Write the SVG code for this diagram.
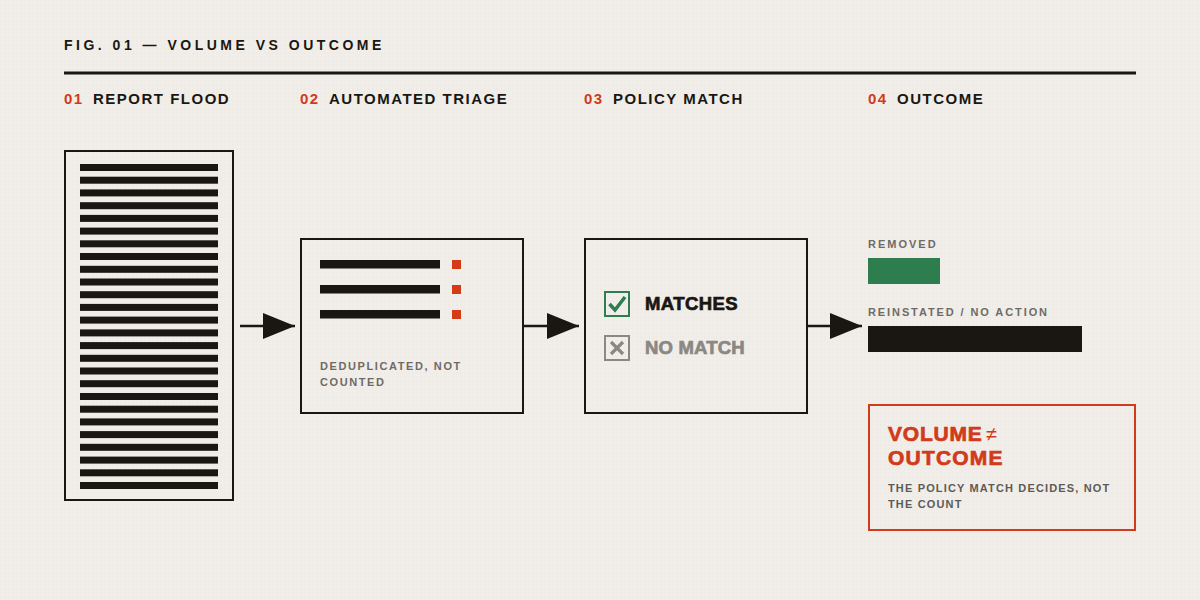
<svg xmlns="http://www.w3.org/2000/svg" width="1200" height="600" viewBox="0 0 1200 600">
<defs>
<pattern id="dots" width="4" height="4" patternUnits="userSpaceOnUse"><rect width="4" height="4" fill="#f1eee9"/><circle cx="1" cy="1" r="0.6" fill="#e6e2dc"/></pattern>
<marker id="ah" viewBox="0 0 32 26" refX="32" refY="13" markerWidth="32" markerHeight="26" markerUnits="userSpaceOnUse" orient="auto"><path d="M0,0 L32,13 L0,26 Z" fill="#1a1712"/></marker>
<style>
.hd{font-family:"Liberation Sans",Arial,sans-serif;font-weight:700;fill:#1a1712}
.num{fill:#d13a1a}
.sm{font-family:"Liberation Sans",Arial,sans-serif;font-weight:700;font-size:11px;letter-spacing:1.6px;fill:#6e6b66}
.heavy{stroke-width:0.7px;paint-order:stroke}
.box{fill:none;stroke:#1a1712;stroke-width:2}
.bar{fill:#1a1712}
.conn{stroke:#1a1712;stroke-width:2.5;fill:none}
</style>
</defs>
<rect width="1200" height="600" fill="url(#dots)"/>
<text class="hd" x="64" y="50" font-size="14" letter-spacing="3.5">FIG. 01 — VOLUME VS OUTCOME</text>
<rect x="64" y="71.5" width="1072" height="3" fill="#1a1712"/>
<g class="hd" font-size="15" letter-spacing="1.5">
<text x="64" y="104"><tspan class="num">01</tspan></text><text x="93" y="104">REPORT FLOOD</text>
<text x="300" y="104"><tspan class="num">02</tspan></text><text x="329" y="104">AUTOMATED TRIAGE</text>
<text x="584" y="104"><tspan class="num">03</tspan></text><text x="613" y="104">POLICY MATCH</text>
<text x="868" y="104"><tspan class="num">04</tspan></text><text x="897" y="104">OUTCOME</text>
</g>
<g id="node-flood">
<rect class="box" x="65" y="151" width="168" height="349"/>
<g class="bar">
<rect x="80" y="164" width="138" height="7"/><rect x="80" y="176.7" width="138" height="7"/><rect x="80" y="189.4" width="138" height="7"/><rect x="80" y="202.2" width="138" height="7"/><rect x="80" y="214.9" width="138" height="7"/><rect x="80" y="227.6" width="138" height="7"/><rect x="80" y="240.3" width="138" height="7"/><rect x="80" y="253" width="138" height="7"/><rect x="80" y="265.8" width="138" height="7"/><rect x="80" y="278.5" width="138" height="7"/><rect x="80" y="291.2" width="138" height="7"/><rect x="80" y="303.9" width="138" height="7"/><rect x="80" y="316.6" width="138" height="7"/><rect x="80" y="329.4" width="138" height="7"/><rect x="80" y="342.1" width="138" height="7"/><rect x="80" y="354.8" width="138" height="7"/><rect x="80" y="367.5" width="138" height="7"/><rect x="80" y="380.2" width="138" height="7"/><rect x="80" y="393" width="138" height="7"/><rect x="80" y="405.7" width="138" height="7"/><rect x="80" y="418.4" width="138" height="7"/><rect x="80" y="431.1" width="138" height="7"/><rect x="80" y="443.8" width="138" height="7"/><rect x="80" y="456.6" width="138" height="7"/><rect x="80" y="469.3" width="138" height="7"/><rect x="80" y="482" width="138" height="7"/>
</g>
</g>
<g id="node-triage">
<rect class="box" x="301" y="239" width="222" height="174"/>
<rect class="bar" x="320" y="260" width="120" height="8.5"/><rect class="bar" x="320" y="285" width="120" height="8.5"/><rect class="bar" x="320" y="310" width="120" height="8.5"/>
<g fill="#d63b18"><rect x="452" y="260" width="9" height="9"/><rect x="452" y="285" width="9" height="9"/><rect x="452" y="310" width="9" height="9"/></g>
<text class="sm" x="320" y="370">DEDUPLICATED, NOT</text>
<text class="sm" x="320" y="386">COUNTED</text>
</g>
<g id="node-policy">
<rect class="box" x="585" y="239" width="222" height="174"/>
<rect x="605" y="292" width="24" height="24" fill="none" stroke="#2e7d4f" stroke-width="2"/>
<path d="M609.5,304 L615,310 L625,297" fill="none" stroke="#2e7d4f" stroke-width="3.5"/>
<text class="hd heavy" x="645" y="310" font-size="18.5" letter-spacing="0.4" stroke="#1a1712">MATCHES</text>
<rect x="605" y="336" width="24" height="24" fill="none" stroke="#8a8883" stroke-width="2"/>
<path d="M611,342 L623,354 M623,342 L611,354" stroke="#8a8883" stroke-width="3.2"/>
<text class="hd heavy" x="645" y="354" font-size="18.5" letter-spacing="0.2" stroke="#8a8883" style="fill:#8a8883">NO MATCH</text>
</g>
<g id="node-outcome">
<text class="sm" x="868" y="248" style="letter-spacing:2px">REMOVED</text>
<rect x="868" y="258" width="72" height="26" fill="#2e7d4f"/>
<text class="sm" x="868" y="316" style="letter-spacing:1.9px">REINSTATED / NO ACTION</text>
<rect x="868" y="326" width="214" height="26" fill="#1a1712"/>
</g>
<g id="node-callout">
<rect x="869" y="405" width="266" height="125" fill="none" stroke="#d13a1a" stroke-width="2"/>
<text class="hd" x="888" y="441" font-size="21" letter-spacing="0.8" style="fill:#d13a1a"><tspan class="heavy" stroke="#d13a1a" stroke-width="1">VOLUME</tspan><tspan dx="3" font-weight="400" font-size="20">≠</tspan></text>
<text class="hd heavy" x="888" y="465" font-size="21" letter-spacing="1.2" stroke="#d13a1a" stroke-width="1" style="fill:#d13a1a">OUTCOME</text>
<text class="sm" x="888" y="492" style="fill:#5e5b56;letter-spacing:1.15px">THE POLICY MATCH DECIDES, NOT</text>
<text class="sm" x="888" y="508" style="fill:#5e5b56;letter-spacing:1.15px">THE COUNT</text>
</g>
<g id="connectors">
<line class="conn" x1="240" y1="326" x2="295" y2="326" marker-end="url(#ah)"/>
<line class="conn" x1="523" y1="326" x2="579" y2="326" marker-end="url(#ah)"/>
<line class="conn" x1="807" y1="326" x2="862" y2="326" marker-end="url(#ah)"/>
</g>
</svg>
